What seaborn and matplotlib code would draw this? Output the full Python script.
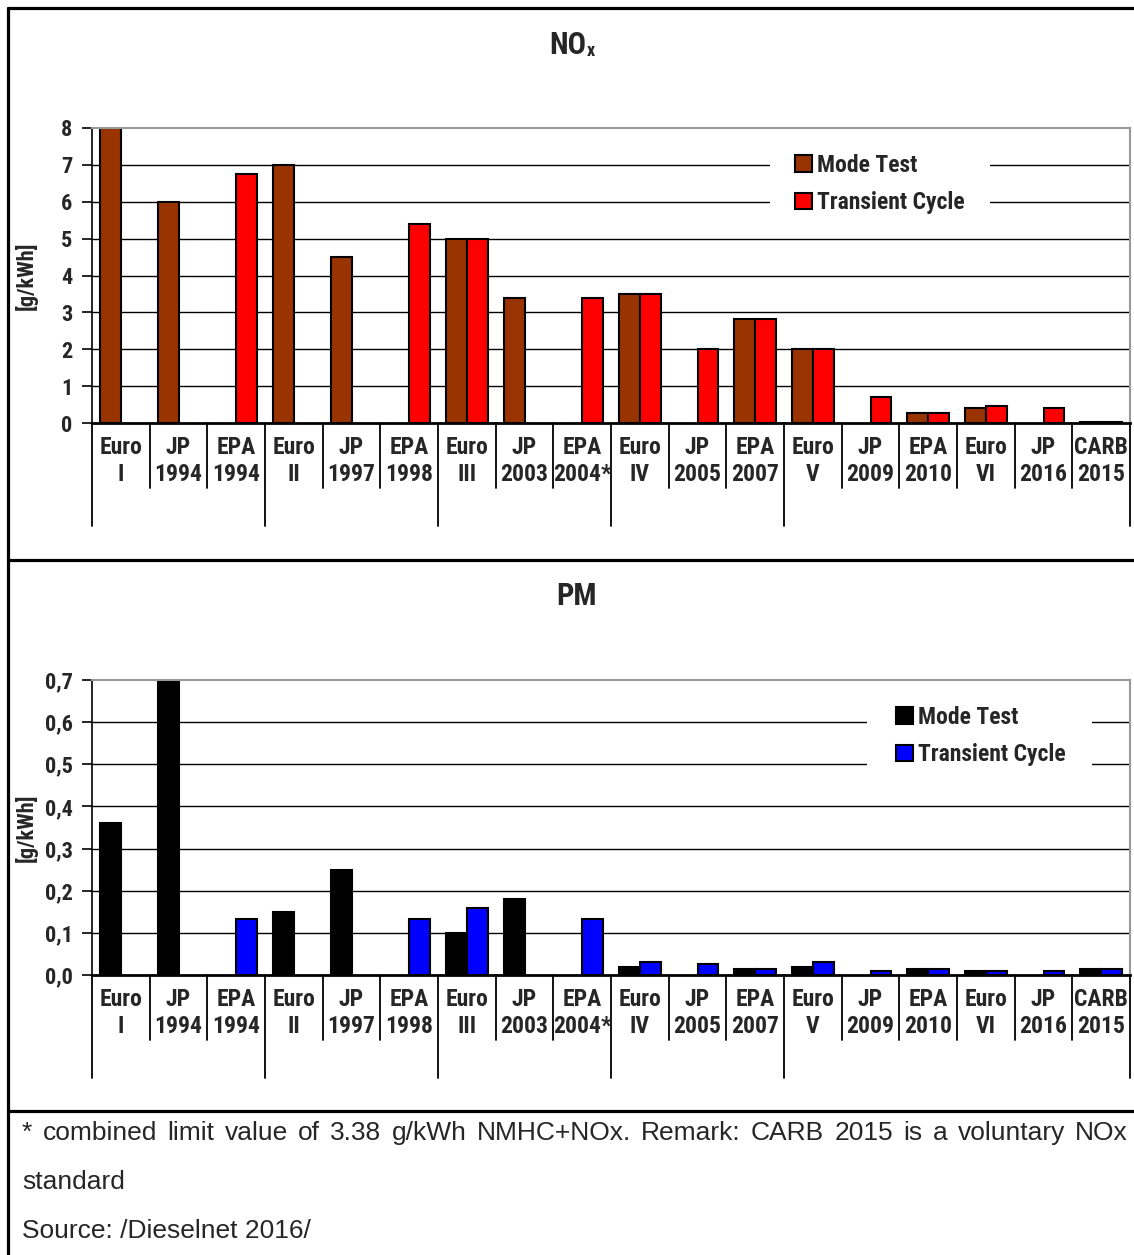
import numpy as np
import pandas as pd
import matplotlib
matplotlib.use("Agg")
import matplotlib.pyplot as plt
from matplotlib.lines import Line2D
from matplotlib.patches import Rectangle
from matplotlib.ticker import FuncFormatter
import seaborn as sns

sns.set_theme(style="white")
NARROW = ['Roboto Condensed', 'PT Sans Narrow', 'Barlow Semi Condensed', 'Liberation Sans', 'DejaVu Sans']
REG = ['Liberation Sans', 'DejaVu Sans']
plt.rcParams['font.family'] = NARROW

# ---------------- data ----------------
categories = ["Euro\nI", "JP\n1994", "EPA\n1994", "Euro\nII", "JP\n1997", "EPA\n1998",
              "Euro\nIII", "JP\n2003", "EPA\n2004*", "Euro\nIV", "JP\n2005", "EPA\n2007",
              "Euro\nV", "JP\n2009", "EPA\n2010", "Euro\nVI", "JP\n2016", "CARB\n2015"]
group_sizes = [3, 3, 3, 3, 6]
series = ["Mode Test", "Transient Cycle"]

nox_mode = [8.0, 6.0, np.nan, 7.0, 4.5, np.nan, 5.0, 3.38, np.nan, 3.5, np.nan, 2.83,
            2.0, np.nan, 0.27, 0.4, np.nan, 0.027]
nox_trans = [np.nan, np.nan, 6.75, np.nan, np.nan, 5.4, 5.0, np.nan, 3.38, 3.5, 2.0, 2.83,
             2.0, 0.7, 0.27, 0.46, 0.4, 0.027]

pm_mode = [0.36, 0.70, np.nan, 0.15, 0.25, np.nan, 0.10, 0.18, np.nan, 0.02, np.nan, 0.0134,
           0.02, np.nan, 0.0134, 0.01, np.nan, 0.0134]
pm_trans = [np.nan, np.nan, 0.134, np.nan, np.nan, 0.134, 0.16, np.nan, 0.134, 0.03, 0.027, 0.0134,
            0.03, 0.01, 0.0134, 0.01, 0.01, 0.0134]

nox_ticks = [0, 1, 2, 3, 4, 5, 6, 7, 8]
pm_ticks = [0.0, 0.1, 0.2, 0.3, 0.4, 0.5, 0.6, 0.7]

footnote1 = "* combined limit value of 3.38 g/kWh NMHC+NOx. Remark: CARB 2015 is a voluntary NOx"
footnote2 = "standard"
footnote3 = "Source: /Dieselnet 2016/"

W, H = 1134, 1255
fig = plt.figure(figsize=(W / 100, H / 100), dpi=100)
fig.patch.set_facecolor("white")


def frac_x(px):
    return px / W


def frac_y(py):
    return 1 - py / H


def make_df(mode, trans):
    return pd.DataFrame({
        "cat": categories * 2,
        "type": [series[0]] * len(categories) + [series[1]] * len(categories),
        "value": list(mode) + list(trans),
    })


def draw_panel(top_px, bottom_px, mode, trans, colors, ticks, ymax, fmt, leg_box, leg_anchor):
    left_px, right_px = 92, 1130
    h = bottom_px - top_px
    w = right_px - left_px
    ax = fig.add_axes([frac_x(left_px), frac_y(bottom_px), w / W, h / H])
    df = make_df(mode, trans)
    sns.barplot(data=df, x="cat", y="value", hue="type", order=categories,
                hue_order=series, palette=colors, edgecolor="black", linewidth=1.5,
                width=0.72, errorbar=None, ax=ax, saturation=1)
    ax.set_xlim(-0.5, len(categories) - 0.5)
    ax.set_ylim(0, ymax)
    ax.set_yticks(ticks)
    ax.yaxis.set_major_formatter(FuncFormatter(fmt))
    ax.set_xticks([])
    ax.set_xlabel("")
    ax.set_ylabel("[g/kWh]", fontsize=16, fontweight="bold", family=NARROW)
    ax.yaxis.set_label_coords(-0.052, 0.5)
    ax.tick_params(axis="y", direction="out", length=7, width=1.2, color="black",
                   labelsize=16, pad=7, left=True)
    for lab in ax.get_yticklabels():
        lab.set_fontweight("bold")
    ax.grid(False)
    for t in ticks[1:-1]:
        ax.axhline(t, color="black", lw=1.0, zorder=0)
    ax.spines["left"].set_color("black")
    ax.spines["left"].set_linewidth(1.2)
    ax.spines["bottom"].set_color("black")
    ax.spines["bottom"].set_linewidth(2.0)
    ax.spines["top"].set_color("#999999")
    ax.spines["top"].set_linewidth(1.5)
    ax.spines["right"].set_color("#999999")
    ax.spines["right"].set_linewidth(1.5)
    ax.set_axisbelow(True)

    # category labels and separators (Excel-style multi-level axis)
    trans_b = matplotlib.transforms.blended_transform_factory(ax.transData, ax.transAxes)
    for i, c in enumerate(categories):
        ax.text(i, -(461 - 423) / h, c, transform=trans_b, ha="center", va="center",
                fontsize=17, fontweight="bold", linespacing=1.2, family=NARROW)
    group_edges = np.concatenate([[0], np.cumsum(group_sizes)])
    for i in range(len(categories) + 1):
        depth = (526 - 423) / h if i in group_edges else (488 - 423) / h
        ax.add_line(Line2D([i - 0.5, i - 0.5], [0, -depth], transform=trans_b,
                           color="black", lw=1.3, clip_on=False))

    # white legend area interrupting the gridlines
    bx0, by0, bx1, by1 = leg_box
    ax.add_patch(Rectangle(((bx0 - left_px) / w, (bottom_px - by1) / h),
                           (bx1 - bx0) / w, (by1 - by0) / h, transform=ax.transAxes,
                           facecolor="white", edgecolor="none", zorder=0.5))
    ax_x, ax_y = leg_anchor
    handles, labels = ax.get_legend_handles_labels()
    ax.legend(handles, labels, loc="upper left",
              bbox_to_anchor=((ax_x - left_px) / w, (bottom_px - ax_y) / h),
              frameon=False, handlelength=0.7, handleheight=0.7, handletextpad=0.25,
              labelspacing=0.6, borderpad=0, borderaxespad=0,
              prop={"family": NARROW, "weight": "bold", "size": 17})
    return ax


draw_panel(128, 423, nox_mode, nox_trans, ["#993300", "#FF0000"], nox_ticks, 8,
           lambda v, p: f"{v:.0f}", (770, 140, 990, 228), (795, 154))
draw_panel(680, 975, pm_mode, pm_trans, ["#000000", "#0000FF"], pm_ticks, 0.7,
           lambda v, p: f"{v:.1f}".replace(".", ","), (867, 693, 1092, 779), (896, 706))

# titles
fig.text(frac_x(586), frac_y(45), "NO", ha="right", va="center", fontsize=22,
         fontweight="bold", family=NARROW)
fig.text(frac_x(587), frac_y(51), "x", ha="left", va="center", fontsize=13,
         fontweight="bold", family=NARROW)
fig.text(frac_x(576), frac_y(596), "PM", ha="center", va="center", fontsize=22,
         fontweight="bold", family=NARROW)

# frame lines
for (x0, y0, x1, y1) in [(8, 8, W, 8), (8, 8, 8, H), (8, 560, W, 560), (8, 1111, W, 1111)]:
    fig.add_artist(Line2D([frac_x(x0), frac_x(x1)], [frac_y(y0), frac_y(y1)],
                          transform=fig.transFigure, color="black", lw=2.3))

# footnote, first line justified
fig.canvas.draw()
renderer = fig.canvas.get_renderer()
words = footnote1.split(" ")
texts = [fig.text(0, frac_y(1133), w, ha="left", va="center", fontsize=19, family=REG)
         for w in words]
widths = [t.get_window_extent(renderer).width for t in texts]
x_start, x_end = 22, 1128
gap = (x_end - x_start - sum(widths)) / (len(words) - 1)
x = x_start
for t, w in zip(texts, widths):
    t.set_x(frac_x(x))
    x += w + gap
fig.text(frac_x(22), frac_y(1182), footnote2, ha="left", va="center", fontsize=19, family=REG)
fig.text(frac_x(22), frac_y(1231), footnote3, ha="left", va="center", fontsize=19, family=REG)

fig.savefig("out.png", dpi=100, facecolor="white")
